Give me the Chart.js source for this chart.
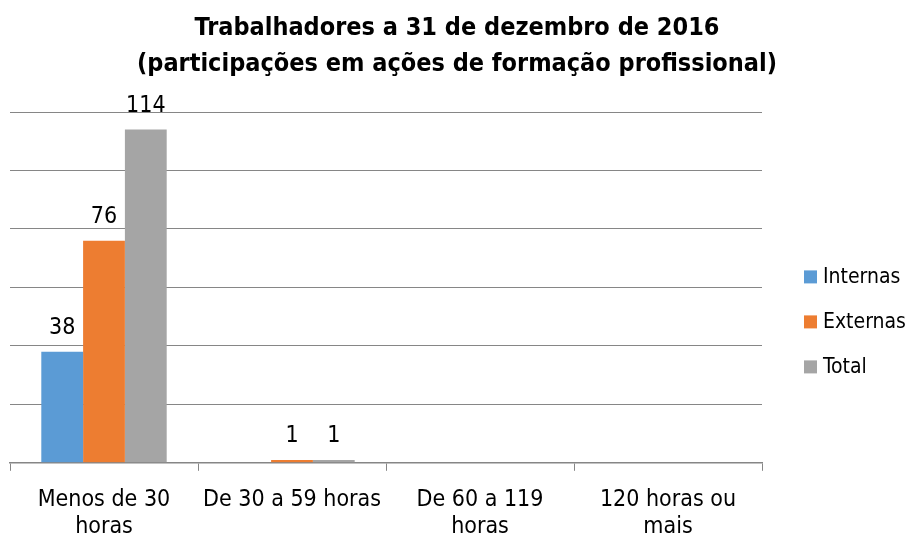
<!DOCTYPE html>
<html>
<head>
<meta charset="utf-8">
<script src="https://cdn.jsdelivr.net/npm/chart.js@4/dist/chart.umd.min.js"></script>
<style>
  html, body { margin: 0; padding: 0; background: #fff; }
  #wrap { width: 908px; height: 540px; }
</style>
</head>
<body>
<div id="wrap"><canvas id="chart" width="908" height="540"></canvas></div>
<script>
const categories = [['Menos de 30', 'horas'], 'De 30 a 59 horas', ['De 60 a 119', 'horas'], ['120 horas ou', 'mais']]
const internas = [38, 0, 0, 0]
const externas = [76, 1, 0, 0]
const total = [114, 1, 0, 0]
const titleLines = ['Trabalhadores a 31 de dezembro de 2016', '(participações em ações de formação profissional)']

const fontFamily = "'Liberation Sans Narrow', 'DejaVu Sans Condensed', 'Liberation Sans', sans-serif"

// etiquetas de valor por cima das barras (só valores > 0)
const valueLabels = {
  id: 'valueLabels',
  afterDatasetsDraw(chart) {
    const ctx = chart.ctx
    ctx.save()
    ctx.font = '23px ' + fontFamily
    ctx.fillStyle = '#000'
    ctx.textAlign = 'center'
    ctx.textBaseline = 'alphabetic'
    chart.data.datasets.forEach((ds, i) => {
      chart.getDatasetMeta(i).data.forEach((bar, j) => {
        const v = ds.data[j]
        if (v > 0) ctx.fillText(String(v), bar.x, bar.y - 18)
      })
    })
    ctx.restore()
  }
}

// título centrado na largura toda + legenda à direita
const decor = {
  id: 'decor',
  afterDraw(chart) {
    const ctx = chart.ctx
    const area = chart.chartArea
    ctx.save()
    ctx.fillStyle = '#000'
    ctx.font = 'bold 25px ' + fontFamily
    ctx.textAlign = 'center'
    ctx.textBaseline = 'middle'
    titleLines.forEach((t, i) => ctx.fillText(t, 457, 28 + i * 36))

    const midY = (area.top + area.bottom) / 2 + 34
    const x = area.right + 42
    ctx.font = '21px ' + fontFamily
    ctx.textAlign = 'left'
    chart.data.datasets.forEach((ds, i) => {
      const y = midY + (i - 1) * 45
      ctx.fillStyle = ds.backgroundColor
      ctx.fillRect(x, y - 6, 13, 13)
      ctx.fillStyle = '#000'
      ctx.fillText(ds.label, x + 19, y + 1)
    })
    ctx.restore()
  }
}

new Chart(document.getElementById('chart'), {
  type: 'bar',
  data: {
    labels: categories,
    datasets: [
      { label: 'Internas', data: internas, backgroundColor: '#5B9BD5' },
      { label: 'Externas', data: externas, backgroundColor: '#ED7D31' },
      { label: 'Total', data: total, backgroundColor: '#A5A5A5' }
    ]
  },
  options: {
    responsive: false,
    animation: false,
    layout: { padding: { left: 10, right: 146, top: 112, bottom: -16 } },
    datasets: { bar: { categoryPercentage: 0.667, barPercentage: 1 } },
    plugins: {
      title: { display: false },
      legend: { display: false },
      tooltip: { enabled: false }
    },
    scales: {
      x: {
        grid: { offset: true, drawOnChartArea: false, color: '#868686', tickLength: 8 },
        border: { color: '#868686', width: 1.5 },
        ticks: { color: '#000', font: { family: fontFamily, size: 23, lineHeight: 1.2 }, maxRotation: 0, padding: 15 }
      },
      y: {
        min: 0,
        max: 120,
        ticks: { stepSize: 20, display: false },
        grid: { color: '#868686', drawTicks: false },
        border: { display: false }
      }
    }
  },
  plugins: [valueLabels, decor]
})
</script>
</body>
</html>
